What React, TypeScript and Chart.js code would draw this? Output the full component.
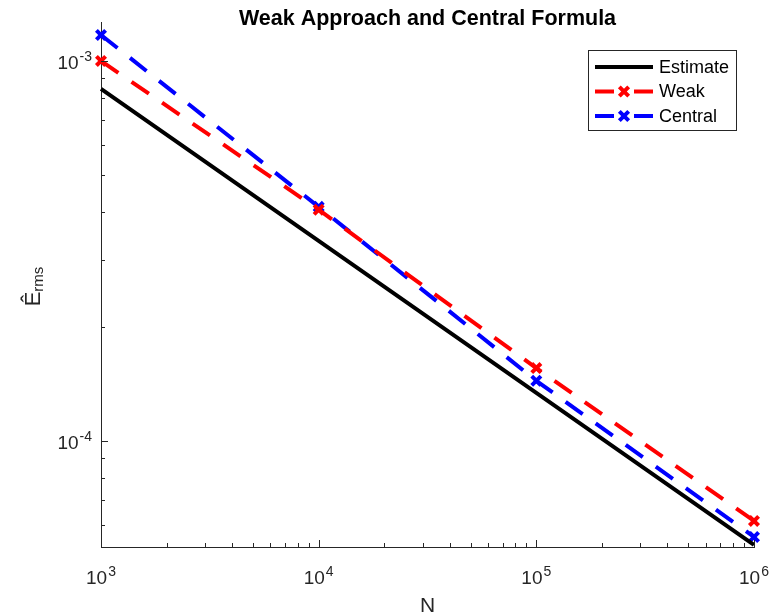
import React, { useEffect, useRef } from "react";
import { Chart, registerables } from "chart.js";

Chart.register(...registerables);

// ---- Data ----
const N_VALUES = [1e3, 1e4, 1e5, 1e6];
const ESTIMATE = [8.44e-4, 3.36e-4, 1.338e-4, 5.33e-5];
const WEAK = [1.0e-3, 4.06e-4, 1.555e-4, 6.16e-5];
const CENTRAL = [1.17e-3, 4.13e-4, 1.44e-4, 5.59e-5];
const SERIES_LABELS = ["Estimate", "Weak", "Central"];

const X_MAJOR = [1e3, 1e4, 1e5, 1e6];
const X_EXPONENTS = ["3", "4", "5", "6"];
const X_MINOR = [
  2e3, 3e3, 4e3, 5e3, 6e3, 7e3, 8e3, 9e3,
  2e4, 3e4, 4e4, 5e4, 6e4, 7e4, 8e4, 9e4,
  2e5, 3e5, 4e5, 5e5, 6e5, 7e5, 8e5, 9e5,
];
const Y_MAJOR = [1e-4, 1e-3];
const Y_EXPONENTS = ["-4", "-3"];
const Y_MINOR = [
  6e-5, 7e-5, 8e-5, 9e-5,
  2e-4, 3e-4, 4e-4, 5e-4, 6e-4, 7e-4, 8e-4, 9e-4,
];
const X_MIN = 1e3;
const X_MAX = 1e6;
const Y_MIN = 5.26e-5;
const Y_MAX = 1.266e-3;

const TITLE = "Weak Approach and Central Formula";
const X_TITLE = "N";
const Y_TITLE_MAIN = "Ê";
const Y_TITLE_SUB = "rms";

const FONT = "'Liberation Sans', Arial, Helvetica, sans-serif";
const AXIS_COLOR = "#262626";

const COLORS = ["#000000", "#ff0000", "#0000ff"];

function drawPow(ctx: CanvasRenderingContext2D, exp: string, x: number, y: number, align: "center" | "right") {
  const baseFont = `19px ${FONT}`;
  const expFont = `14px ${FONT}`;
  ctx.font = baseFont;
  const wb = ctx.measureText("10").width;
  ctx.font = expFont;
  const we = ctx.measureText(exp).width;
  const total = wb + we + 1;
  const start = align === "center" ? x - total / 2 : x - total;
  ctx.textAlign = "left";
  ctx.textBaseline = "alphabetic";
  ctx.font = baseFont;
  ctx.fillText("10", start, y);
  ctx.font = expFont;
  ctx.fillText(exp, start + wb + 1, y - 8.5);
}

const decorPlugin = {
  id: "decor",
  afterDraw(chart: any) {
    const ctx: CanvasRenderingContext2D = chart.ctx;
    const area = chart.chartArea;
    const xs = chart.scales.x;
    const ys = chart.scales.y;
    ctx.save();
    ctx.strokeStyle = AXIS_COLOR;
    ctx.fillStyle = AXIS_COLOR;
    ctx.lineWidth = 1;
    ctx.beginPath();
    const xTick = (v: number, len: number) => {
      const px = Math.round(xs.getPixelForValue(v)) + 0.5;
      ctx.moveTo(px, area.bottom);
      ctx.lineTo(px, area.bottom - len);
    };
    const yTick = (v: number, len: number) => {
      const py = Math.round(ys.getPixelForValue(v)) + 0.5;
      ctx.moveTo(area.left, py);
      ctx.lineTo(area.left + len, py);
    };
    X_MAJOR.forEach((v) => xTick(v, 7));
    X_MINOR.forEach((v) => xTick(v, 4));
    Y_MAJOR.forEach((v) => yTick(v, 7));
    Y_MINOR.forEach((v) => yTick(v, 4));
    ctx.stroke();

    // tick labels
    X_MAJOR.forEach((v, i) => {
      drawPow(ctx, X_EXPONENTS[i], xs.getPixelForValue(v), area.bottom + 37, "center");
    });
    Y_MAJOR.forEach((v, i) => {
      drawPow(ctx, Y_EXPONENTS[i], area.left - 9, ys.getPixelForValue(v) + 8.5, "right");
    });

    // x title
    ctx.font = `21px ${FONT}`;
    ctx.textAlign = "center";
    ctx.textBaseline = "alphabetic";
    ctx.fillText(X_TITLE, (area.left + area.right) / 2, 612);

    // y title (rotated)
    ctx.save();
    ctx.translate(40, (area.top + area.bottom) / 2 + 2);
    ctx.rotate(-Math.PI / 2);
    ctx.font = `22px ${FONT}`;
    const wMain = ctx.measureText(Y_TITLE_MAIN).width;
    ctx.font = `15px ${FONT}`;
    const wSub = ctx.measureText(Y_TITLE_SUB).width;
    const st = -(wMain + wSub) / 2;
    ctx.textAlign = "left";
    ctx.font = `22px ${FONT}`;
    ctx.fillText(Y_TITLE_MAIN, st, 0);
    ctx.font = `15px ${FONT}`;
    ctx.fillText(Y_TITLE_SUB, st + wMain, 3);
    ctx.restore();

    // title
    ctx.fillStyle = "#000000";
    ctx.font = `bold 21.5px ${FONT}`;
    ctx.textAlign = "center";
    ctx.fillText(TITLE, (area.left + area.right) / 2, 25);

    // legend
    const lx = 588.5, ly = 50.5, lw = 148, lh = 80;
    ctx.fillStyle = "#ffffff";
    ctx.fillRect(lx, ly, lw, lh);
    ctx.strokeStyle = AXIS_COLOR;
    ctx.lineWidth = 1;
    ctx.strokeRect(lx, ly, lw, lh);
    const rows = [67, 91.5, 116];
    chart.data.datasets.forEach((ds: any, i: number) => {
      const y = rows[i];
      ctx.save();
      ctx.strokeStyle = ds.borderColor;
      ctx.lineWidth = ds.borderWidth;
      ctx.beginPath();
      if (ds.borderDash && ds.borderDash.length) {
        ctx.moveTo(595, y); ctx.lineTo(614, y);
        ctx.moveTo(634, y); ctx.lineTo(653, y);
      } else {
        ctx.moveTo(595, y); ctx.lineTo(653, y);
      }
      ctx.stroke();
      if (ds.pointRadius > 0) {
        ctx.lineWidth = ds.pointBorderWidth;
        const r = ds.pointRadius * 0.72;
        ctx.beginPath();
        ctx.moveTo(624 - r, y - r); ctx.lineTo(624 + r, y + r);
        ctx.moveTo(624 - r, y + r); ctx.lineTo(624 + r, y - r);
        ctx.stroke();
      }
      ctx.restore();
      ctx.fillStyle = "#000000";
      ctx.font = `18px ${FONT}`;
      ctx.textAlign = "left";
      ctx.textBaseline = "middle";
      ctx.fillText(ds.label, 659, y + 1);
    });
    ctx.restore();
  },
};

export default function App() {
  const ref = useRef<HTMLCanvasElement>(null);
  useEffect(() => {
    if (!ref.current) return;
    const mk = (vals: number[]) => N_VALUES.map((n, i) => ({ x: n, y: vals[i] }));
    const chart = new Chart(ref.current, {
      type: "line",
      data: {
        datasets: [
          {
            label: SERIES_LABELS[0],
            data: mk(ESTIMATE),
            borderColor: COLORS[0],
            backgroundColor: COLORS[0],
            borderWidth: 4,
            pointRadius: 0,
            pointBorderWidth: 0,
            clip: false as any,
          },
          {
            label: SERIES_LABELS[1],
            data: mk(WEAK),
            borderColor: COLORS[1],
            backgroundColor: COLORS[1],
            borderWidth: 4,
            borderDash: [21, 16],
            pointStyle: "crossRot",
            pointRadius: 6.5,
            pointBorderWidth: 4,
            clip: false as any,
          },
          {
            label: SERIES_LABELS[2],
            data: mk(CENTRAL),
            borderColor: COLORS[2],
            backgroundColor: COLORS[2],
            borderWidth: 4,
            borderDash: [21, 16],
            pointStyle: "crossRot",
            pointRadius: 6.5,
            pointBorderWidth: 4,
            clip: false as any,
          },
        ],
      },
      options: {
        responsive: false,
        animation: false,
        devicePixelRatio: 1,
        layout: { padding: { left: 101, right: 15, top: 22, bottom: 69 } },
        plugins: {
          legend: { display: false },
          title: { display: false },
          tooltip: { enabled: false },
        },
        scales: {
          x: {
            type: "logarithmic",
            min: X_MIN,
            max: X_MAX,
            grid: { display: false, drawTicks: false },
            border: { display: true, color: AXIS_COLOR, width: 1 },
            ticks: { display: false },
            afterFit: (s: any) => { s.height = 0; },
          },
          y: {
            type: "logarithmic",
            min: Y_MIN,
            max: Y_MAX,
            grid: { display: false, drawTicks: false },
            border: { display: true, color: AXIS_COLOR, width: 1 },
            ticks: { display: false },
            afterFit: (s: any) => { s.width = 0; },
          },
        },
      },
      plugins: [decorPlugin],
    });
    return () => chart.destroy();
  }, []);
  return (
    <div style={{ position: "fixed", left: 0, top: 0, width: 769, height: 616, background: "#ffffff" }}>
      <canvas ref={ref} width={769} height={616} style={{ display: "block", width: 769, height: 616 }} />
    </div>
  );
}
